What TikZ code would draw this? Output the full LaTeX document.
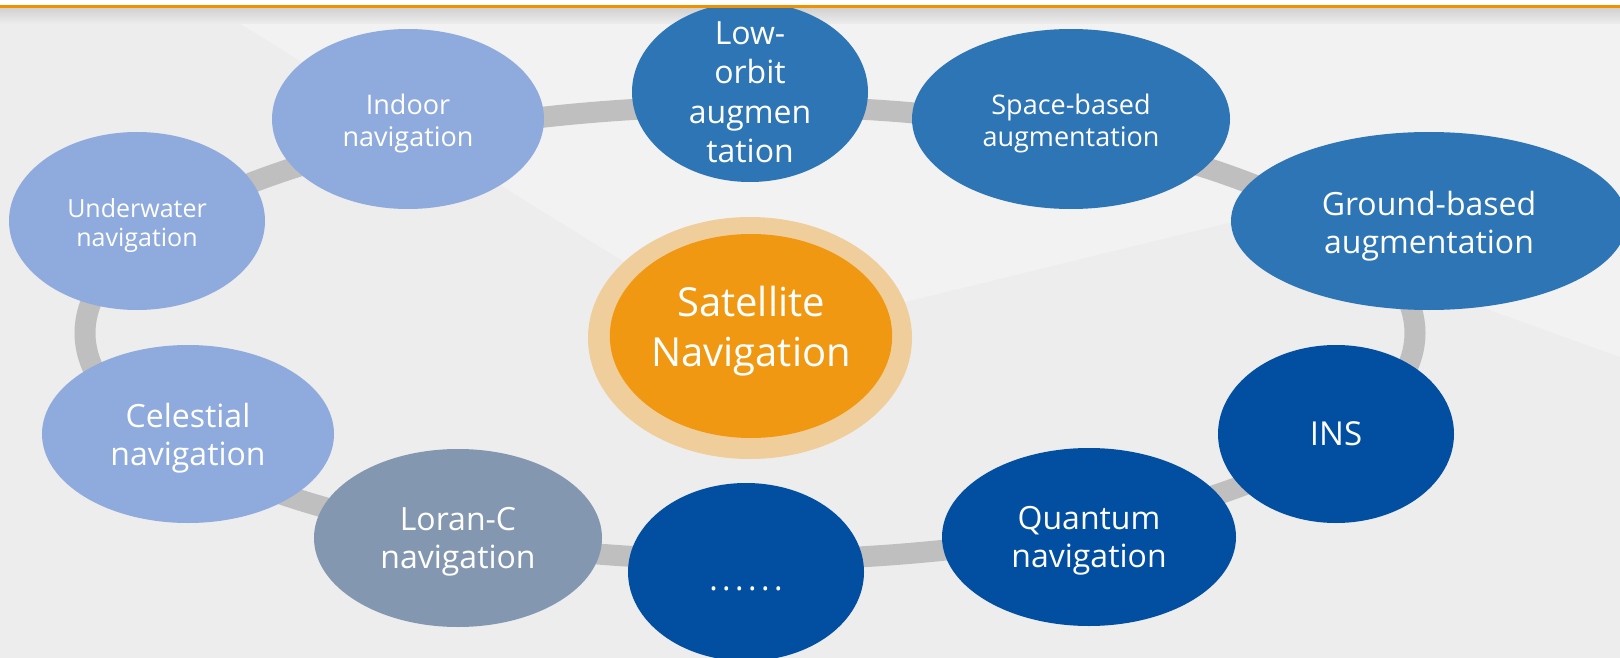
\documentclass[tikz,border=0pt]{standalone}
\usepackage{fontspec}
\setmainfont{Open Sans}
\usetikzlibrary{shapes.geometric}

\definecolor{bggray}{RGB}{237,237,237}
\definecolor{ringgray}{RGB}{191,191,191}
\definecolor{topline}{RGB}{240,145,0}
\definecolor{navlight}{RGB}{143,170,220}
\definecolor{navslate}{RGB}{132,151,176}
\definecolor{navmid}{RGB}{46,117,182}
\definecolor{navdark}{RGB}{2,79,161}
\definecolor{satorange}{RGB}{240,152,18}
\definecolor{sathalo}{RGB}{240,206,155}

\begin{document}
\begin{tikzpicture}[x=1pt, y=-1pt,
                bubble/.style={ellipse, inner sep=0pt, text=white, align=center, font=\fontsize{32}{38}\selectfont},
                padtop/.style={text height=#1},
                smallbub/.style={font=\fontsize{27}{32}\selectfont},
                lightbub/.style={bubble, fill=navlight},
                slatebub/.style={bubble, fill=navslate},
                midbub/.style={bubble, fill=navmid},
                darkbub/.style={bubble, fill=navdark},
                satbub/.style={bubble, fill=satorange, font=\fontsize{40}{50}\selectfont, execute at end node=\rule[-20pt]{0pt}{20pt}},
                ring/.style={draw=ringgray, line width=21pt},
                ]
                \clip (0,0) rectangle (1620,658);
                \fill[bggray] (0,0) rectangle (1620,658);
                \fill[white, opacity=.3] (215,8) -- (1620,8) -- (1620,357) -- (1240,220) -- (750,340) -- cycle;
                \shade[top color=black!18, bottom color=bggray] (0,8) rectangle (1620,24);

                \draw[ring] (750,333) ellipse [x radius=665, y radius=227];

                \node[lightbub, smallbub, padtop=62pt, minimum width=272pt, minimum height=180pt] (indoor) at (408,119) {Indoor\\navigation};
                \node[lightbub, padtop=57.5pt, font=\fontsize{25}{29}\selectfont, minimum width=256pt, minimum height=178pt] (underwater) at (137,221) {Underwater\\navigation};
                \node[midbub, font=\fontsize{32}{39.5}\selectfont, inner ysep=-40pt, minimum width=236pt, minimum height=180pt] (loworbit) at (750,92) {Low-\\orbit\\augmen\\tation};
                \node[midbub, smallbub, padtop=62pt, minimum width=318pt, minimum height=180pt] (spacebased) at (1071,119) {Space-based\\augmentation};
                \node[midbub, padtop=72pt, minimum width=396pt, minimum height=178pt] (groundbased) at (1429,221) {Ground-based\\augmentation};
                \node[darkbub, font=\fontsize{33}{38}\selectfont, minimum width=236pt, minimum height=178pt] (ins) at (1336,434) {INS};
                \node[darkbub, padtop=68pt, minimum width=294pt, minimum height=178pt] (quantum) at (1089,537) {Quantum\\navigation};
                \node[darkbub, text height=36pt, text depth=0pt, minimum width=236pt, minimum height=178pt] (more) at (746,572) {\addfontfeature{LetterSpace=14}......};
                \node[slatebub, padtop=69pt, minimum width=288pt, minimum height=178pt] (loranc) at (458,538) {Loran-C\\navigation};
                \node[lightbub, padtop=70pt, minimum width=292pt, minimum height=178pt] (celestial) at (188,434) {Celestial\\navigation};

                \fill[sathalo] (750,338) ellipse [x radius=162, y radius=121];
                \node[satbub, minimum width=272pt, minimum height=204pt] (sat) at (751,336) {Satellite\\Navigation};

                \fill[white] (0,0) rectangle (1620,6);
                \draw[topline, line width=3pt] (0,7) -- (1620,7);
\end{tikzpicture}
\end{document}
